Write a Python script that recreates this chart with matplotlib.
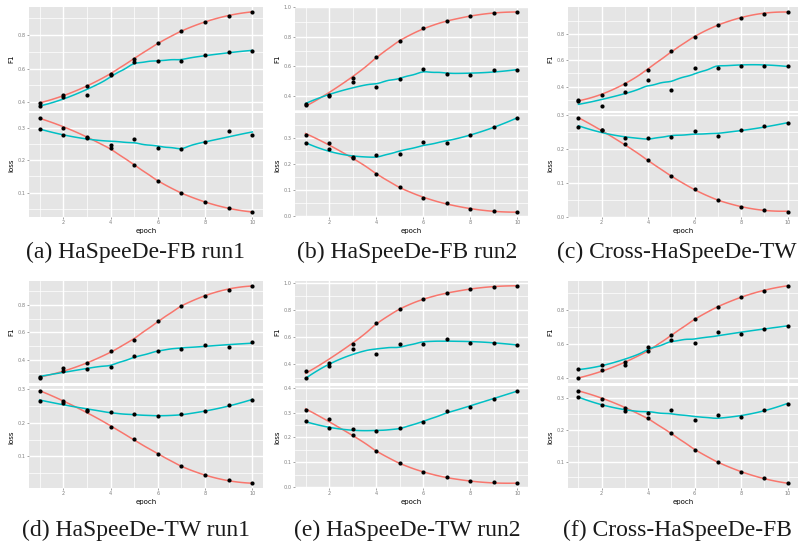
import numpy as np
import matplotlib
matplotlib.use("Agg")
import matplotlib.pyplot as plt

epochs = np.arange(1, 11)

# ---- data (red = train, cyan = validation) ----
a_f1_train = [0.396, 0.440, 0.494, 0.569, 0.659, 0.750, 0.822, 0.877, 0.913, 0.937]
a_f1_val   = [0.376, 0.432, 0.442, 0.559, 0.637, 0.643, 0.647, 0.683, 0.700, 0.704]
a_loss_train = [0.332, 0.300, 0.272, 0.238, 0.184, 0.137, 0.098, 0.071, 0.053, 0.039]
a_loss_val   = [0.297, 0.278, 0.270, 0.248, 0.267, 0.238, 0.236, 0.257, 0.292, 0.279]

b_f1_train = [0.336, 0.405, 0.519, 0.662, 0.772, 0.856, 0.904, 0.940, 0.958, 0.970]
b_f1_val   = [0.345, 0.400, 0.489, 0.459, 0.514, 0.580, 0.544, 0.537, 0.573, 0.573]
b_loss_train = [0.314, 0.282, 0.227, 0.162, 0.112, 0.072, 0.050, 0.029, 0.021, 0.016]
b_loss_val   = [0.280, 0.258, 0.226, 0.235, 0.240, 0.287, 0.280, 0.313, 0.344, 0.378]

c_f1_train = [0.297, 0.333, 0.420, 0.528, 0.672, 0.774, 0.869, 0.923, 0.951, 0.967]
c_f1_val   = [0.288, 0.251, 0.356, 0.449, 0.377, 0.544, 0.538, 0.556, 0.559, 0.556]
c_loss_train = [0.290, 0.256, 0.213, 0.166, 0.119, 0.081, 0.049, 0.030, 0.022, 0.016]
c_loss_val   = [0.265, 0.255, 0.231, 0.231, 0.235, 0.251, 0.238, 0.256, 0.267, 0.275]

d_f1_train = [0.273, 0.315, 0.376, 0.461, 0.544, 0.683, 0.795, 0.868, 0.912, 0.942]
d_f1_val   = [0.263, 0.337, 0.334, 0.344, 0.429, 0.463, 0.478, 0.510, 0.493, 0.527]
d_loss_train = [0.296, 0.265, 0.234, 0.188, 0.151, 0.107, 0.070, 0.043, 0.028, 0.019]
d_loss_val   = [0.266, 0.260, 0.238, 0.231, 0.226, 0.219, 0.226, 0.234, 0.253, 0.269]

e_f1_train = [0.349, 0.407, 0.552, 0.701, 0.807, 0.880, 0.924, 0.953, 0.971, 0.980]
e_f1_val   = [0.297, 0.388, 0.515, 0.478, 0.549, 0.549, 0.586, 0.557, 0.557, 0.544]
e_loss_train = [0.310, 0.275, 0.210, 0.144, 0.096, 0.061, 0.039, 0.024, 0.019, 0.015]
e_loss_val   = [0.265, 0.238, 0.233, 0.227, 0.237, 0.261, 0.306, 0.324, 0.355, 0.389]

f_f1_train = [0.400, 0.447, 0.495, 0.557, 0.652, 0.747, 0.817, 0.873, 0.912, 0.941]
f_f1_val   = [0.454, 0.478, 0.478, 0.582, 0.625, 0.608, 0.668, 0.660, 0.689, 0.707]
f_loss_train = [0.324, 0.299, 0.269, 0.237, 0.189, 0.136, 0.099, 0.068, 0.047, 0.031]
f_loss_val   = [0.304, 0.280, 0.259, 0.253, 0.262, 0.230, 0.246, 0.241, 0.263, 0.283]

captions = ["(a) HaSpeeDe-FB run1", "(b) HaSpeeDe-FB run2", "(c) Cross-HaSpeeDe-TW",
            "(d) HaSpeeDe-TW run1", "(e) HaSpeeDe-TW run2", "(f) Cross-HaSpeeDe-FB"]

f1_ticks = [[0.4, 0.6, 0.8], [0.4, 0.6, 0.8, 1.0], [0.4, 0.6, 0.8],
            [0.4, 0.6, 0.8], [0.4, 0.6, 0.8, 1.0], [0.4, 0.6, 0.8]]
loss_ticks = [[0.1, 0.2, 0.3], [0.0, 0.1, 0.2, 0.3], [0.0, 0.1, 0.2, 0.3],
              [0.1, 0.2, 0.3], [0.0, 0.1, 0.2, 0.3, 0.4], [0.1, 0.2, 0.3]]
x_ticks = [2, 4, 6, 8, 10]

panels = [
    (a_f1_train, a_f1_val, a_loss_train, a_loss_val),
    (b_f1_train, b_f1_val, b_loss_train, b_loss_val),
    (c_f1_train, c_f1_val, c_loss_train, c_loss_val),
    (d_f1_train, d_f1_val, d_loss_train, d_loss_val),
    (e_f1_train, e_f1_val, e_loss_train, e_loss_val),
    (f_f1_train, f_f1_val, f_loss_train, f_loss_val),
]

RED = "#F8766D"
CYAN = "#00BFC4"
PANEL = "#E5E5E5"


def loess(x, y, xs, span=0.75):
    x = np.asarray(x, float)
    y = np.asarray(y, float)
    n = len(x)
    q = int(np.floor(n * span))
    out = []
    for x0 in xs:
        d = np.abs(x - x0)
        h = np.sort(d)[q - 1] * 1.0001
        u = np.clip(d / h, 0, 1)
        w = (1 - u ** 3) ** 3
        X = np.vstack([np.ones(n), x - x0, (x - x0) ** 2]).T
        W = np.diag(w)
        beta = np.linalg.lstsq(X.T @ W @ X, X.T @ W @ y, rcond=None)[0]
        out.append(beta[0])
    return np.array(out)


W_PX, H_PX = 799, 546
fig = plt.figure(figsize=(W_PX / 100, H_PX / 100), dpi=100)

cols = [(29, 263), (295, 528), (568, 798)]
rows = [((7, 111), (113, 217)), ((281, 383), (386, 488))]
cap_y = [252, 530]
cap_x = [136, 407, 677]


def rect(x0, x1, yt, yb):
    return [x0 / W_PX, 1 - yb / H_PX, (x1 - x0) / W_PX, (yb - yt) / H_PX]


xs = np.linspace(1, 10, 80)


def style(ax, ticks, show_x):
    ax.set_facecolor(PANEL)
    for s in ax.spines.values():
        s.set_visible(False)
    ax.set_xlim(0.55, 10.45)
    ax.set_xticks(x_ticks)
    ax.set_xticks([1, 3, 5, 7, 9], minor=True)
    ax.set_yticks(ticks)
    lo, hi = ax.get_ylim()
    step = ticks[1] - ticks[0]
    minors = [t - step / 2 for t in ticks] + [ticks[-1] + step / 2]
    minors = [m for m in minors if lo <= m <= hi]
    ax.set_yticks(minors, minor=True)
    ax.set_yticklabels([f"{t:.1f}" for t in ticks])
    ax.grid(which="major", color="white", lw=1.0)
    ax.grid(which="minor", color="white", lw=0.5)
    ax.set_axisbelow(True)
    ax.tick_params(which="major", length=1.5, width=0.5, color="#7F7F7F",
                   labelsize=3.6, labelcolor="#7F7F7F", pad=1)
    ax.tick_params(which="minor", length=0)
    if show_x:
        ax.set_xticklabels([str(t) for t in x_ticks])
        ax.set_xlabel("epoch", fontsize=5, labelpad=2)
    else:
        ax.tick_params(axis="x", which="both", length=0, labelbottom=False)


for i, (ftr, fva, ltr, lva) in enumerate(panels):
    r, c = divmod(i, 3)
    (x0, x1) = cols[c]
    (top_r, bot_r) = rows[r]
    for j, (tr, va, ylab, ticks) in enumerate([(ftr, fva, "F1", f1_ticks[i]),
                                               (ltr, lva, "loss", loss_ticks[i])]):
        yt, yb = (top_r if j == 0 else bot_r)
        ax = fig.add_axes(rect(x0, x1, yt, yb))
        for series, col in ((tr, RED), (va, CYAN)):
            ax.plot(xs, loess(epochs, series, xs), color=col, lw=1.1, zorder=3)
            ax.plot(epochs, series, "o", color="black", ms=3.0, mew=0, zorder=4)
        ax.margins(x=0.05, y=0.05)
        style(ax, ticks, show_x=(j == 1))
        ax.set_ylabel(ylab, fontsize=5, labelpad=2)
    fig.text(cap_x[c] / W_PX, 1 - cap_y[r] / H_PX, captions[i],
             family="Liberation Serif", fontsize=17, ha="center", va="center",
             color="#1a1a1a")

fig.savefig("out.png", dpi=100)
